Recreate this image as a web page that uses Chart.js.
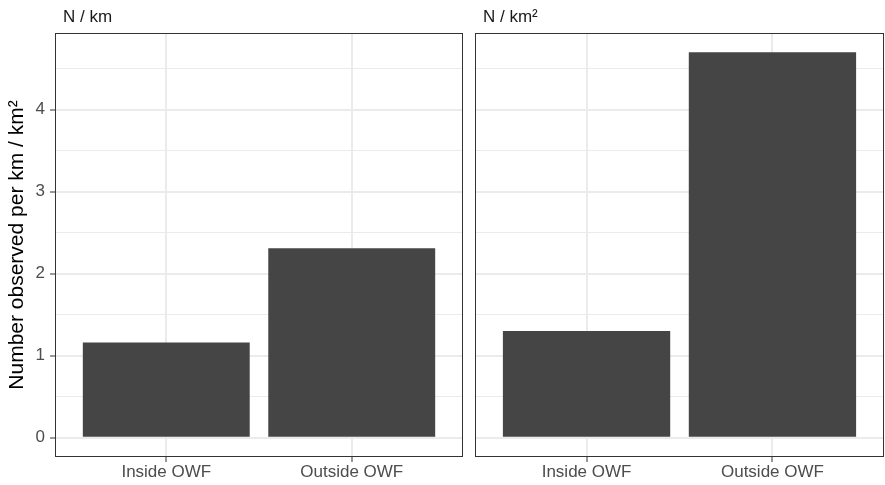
<!DOCTYPE html>
<html>
<head>
<meta charset="utf-8">
<script src="https://cdn.jsdelivr.net/npm/chart.js@4.4.1/dist/chart.umd.min.js"></script>
<style>
  body { margin: 0; background: #fff; }
  .wrap { position: relative; width: 885px; height: 485px; }
  .panel { position: absolute; top: 0; height: 485px; }
</style>
</head>
<body>
<div class="wrap">
  <div class="panel" style="left:0;width:469px"><canvas id="chartLeft"></canvas></div>
  <div class="panel" style="left:469px;width:416px"><canvas id="chartRight"></canvas></div>
</div>
<script>
// data
const categories = ["Inside OWF", "Outside OWF"];
const panelTitles = ["N / km", "N / km\u00b2"];
const perKm = [1.16, 2.31];
const perKm2 = [1.30, 4.70];
const yMajor = [0, 1, 2, 3, 4];
const yMinor = [0.5, 1.5, 2.5, 3.5, 4.5];
const yTitle = "Number observed per km / km\u00b2";

const FONT = "'Liberation Sans', Arial, sans-serif";
const BAR = "#454545";

//draws the panel border and the strip label
const panelPlugin = {
    id: 'panelDeco',
    afterDraw(chart, args, opts) {
        const a = chart.chartArea;
        const ctx = chart.ctx;
        ctx.save();
        ctx.strokeStyle = '#333333';
        ctx.lineWidth = 1;
        ctx.strokeRect(Math.round(a.left) + 0.5, Math.round(a.top) + 0.5,
            Math.round(a.right - a.left) - 1, Math.round(a.bottom - a.top) - 1);
        ctx.fillStyle = '#1a1a1a';
        ctx.font = '17px ' + FONT;
        ctx.textBaseline = 'alphabetic';
        ctx.fillText(opts.label, a.left + 8, 22);
        ctx.restore();
    }
};

function makeConfig(values, label, showY) {
    const yTicks = yMajor.concat(yMinor).sort((a, b) => a - b);
    return {
        type: 'bar',
        data: {
            datasets: [{
                data: values.map((v, i) => ({ x: i + 1, y: v })),
                backgroundColor: BAR,
                borderWidth: 0,
                barPercentage: 0.9,
                categoryPercentage: 1.0,
            }],
        },
        options: {
            responsive: false,
            animation: false,
            layout: { padding: { top: 33, right: showY ? 6 : 1, left: 0, bottom: 0 } },
            plugins: {
                legend: { display: false },
                tooltip: { enabled: false },
                panelDeco: { label: label },
            },
            scales: {
                x: {
                    type: 'linear',
                    min: 0.4,
                    max: 2.6,
                    offset: false,
                    bounds: 'data',
                    afterBuildTicks: (s) => { s.ticks = categories.map((c, i) => ({ value: i + 1 })); },
                    afterFit: (s) => { s.height = 28; },
                    ticks: {
                        callback: (v) => categories[v - 1],
                        color: '#4d4d4d',
                        font: { family: FONT, size: 17 },
                        padding: 0,
                        maxRotation: 0,
                        autoSkip: false,
                    },
                    grid: {
                        offset: false,
                        color: '#ebebeb',
                        lineWidth: 2,
                        tickLength: 5,
                        tickColor: '#333333',
                        tickWidth: 1,
                    },
                    border: { display: false },
                },
                y: {
                    min: -0.235,
                    max: 4.935,
                    afterBuildTicks: (s) => { s.ticks = yTicks.map(v => ({ value: v })); },
                    afterFit: (s) => { s.width = showY ? 55 : 6; },
                    ticks: {
                        display: showY,
                        callback: (v) => yMajor.includes(v) ? String(v) : '',
                        color: '#4d4d4d',
                        font: { family: FONT, size: 17 },
                        padding: 5,
                    },
                    grid: {
                        color: '#ebebeb',
                        lineWidth: (c) => yMajor.includes(c.tick.value) ? 2 : 1,
                        drawTicks: showY,
                        tickLength: 5,
                        tickColor: (c) => yMajor.includes(c.tick.value) ? '#333333' : 'rgba(0,0,0,0)',
                        tickWidth: 1,
                    },
                    border: { display: false },
                    title: {
                        display: showY,
                        text: yTitle,
                        color: '#000000',
                        font: { family: FONT, size: 21 },
                        padding: { top: 5, bottom: 0 },
                    },
                },
            },
        },
        plugins: [panelPlugin],
    };
}

const cl = document.getElementById('chartLeft');
cl.width = 469; cl.height = 485;
const cr = document.getElementById('chartRight');
cr.width = 416; cr.height = 485;

var chartLeft = new Chart(cl, makeConfig(perKm, panelTitles[0], true));
var chartRight = new Chart(cr, makeConfig(perKm2, panelTitles[1], false));
</script>
</body>
</html>
